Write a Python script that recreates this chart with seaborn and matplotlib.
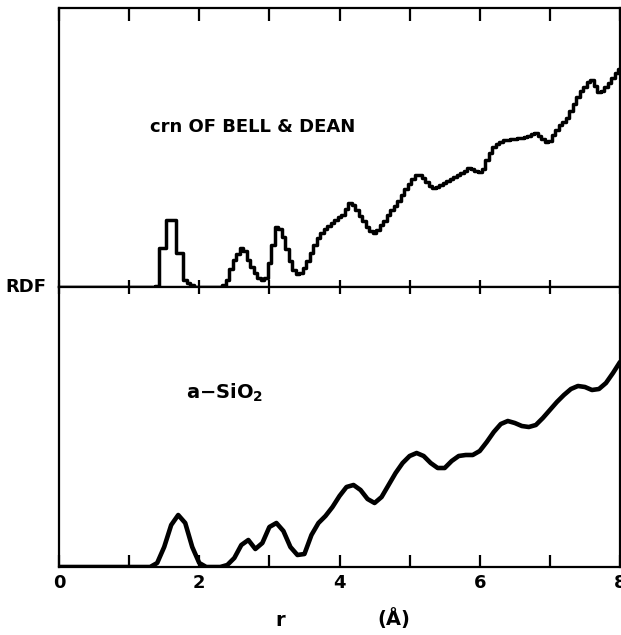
import numpy as np
import pandas as pd
import matplotlib
matplotlib.use("Agg")
import matplotlib.pyplot as plt
import seaborn as sns

# ---------------- data ----------------
# Top panel: crn of Bell & Dean (stepped histogram), r from 1.30 to 8.00 in 0.05 steps
top_r_start = 1.30
top_r_step = 0.05
top_rdf = [
    0, 0, 1, 39, 39, 67, 67, 67, 34, 34,
    7, 4, 2, 0, 0, 0, 0, 0, 0, 0,
    0, 2, 7, 18, 27, 33, 39, 36, 27, 20,
    14, 9, 7, 9, 24, 42, 60, 58, 50, 38,
    26, 17, 13, 14, 19, 26, 34, 42, 49, 54,
    58, 61, 64, 67, 70, 72, 78, 84, 82, 77,
    71, 66, 60, 56, 54, 57, 62, 66, 72, 77,
    81, 86, 92, 98, 103, 108, 112, 112, 109, 105,
    101, 99, 100, 102, 104, 106, 108, 110, 112, 114,
    116, 119, 118, 116, 115, 118, 127, 134, 140, 143,
    145, 147, 147, 148, 148, 149, 149, 150, 151, 153,
    154, 151, 148, 145, 146, 152, 157, 162, 165, 169,
    176, 183, 190, 196, 200, 205, 207, 201, 195, 196,
    200, 204, 209, 214, 218,
]

# Bottom panel: a-SiO2 (smooth curve), r from 1.2 to 8.0 in 0.1 steps
bot_r_start = 1.2
bot_r_step = 0.1
bot_rdf = [
    0, 0, 4, 20, 42, 52, 44, 20, 4, 0,
    0, 0, 2, 9, 22, 27, 18, 24, 40, 44,
    36, 20, 12, 13, 32, 44, 51, 60, 71, 80,
    82, 77, 68, 64, 70, 82, 94, 104, 111, 114,
    111, 104, 99, 99, 106, 111, 112, 112, 116, 125,
    135, 143, 146, 144, 141, 140, 142, 149, 157, 165,
    172, 178, 181, 180, 177, 178, 184, 194, 205,
]

x_major = [0, 2, 4, 6, 8]
x_minor = [1, 3, 5, 7]
x_labels = ["0", "2", "4", "6", "8"]

top_df = pd.DataFrame({
    "r": [0.0] + [round(top_r_start + i * top_r_step, 2) for i in range(len(top_rdf))],
    "rdf": [0] + top_rdf,
})
bot_df = pd.DataFrame({
    "r": [0.0] + [round(bot_r_start + i * bot_r_step, 2) for i in range(len(bot_rdf))],
    "rdf": [0] + bot_rdf,
})

# ---------------- figure ----------------
sns.set_theme(style="white")
plt.rcParams["font.family"] = ["DejaVu Sans"]
plt.rcParams["font.weight"] = "bold"
plt.rcParams["text.color"] = "black"
plt.rcParams["xtick.color"] = "black"
plt.rcParams["xtick.labelcolor"] = "black"
plt.rcParams["axes.edgecolor"] = "black"

W, H = 621, 635
fig = plt.figure(figsize=(W / 100, H / 100), dpi=100)
left = 59 / W
right = 620 / W
top_y = 1 - 8 / H
mid_y = 1 - 287 / H
bot_y = 1 - 567 / H
ax1 = fig.add_axes([left, mid_y, right - left, top_y - mid_y])
ax2 = fig.add_axes([left, bot_y, right - left, mid_y - bot_y], sharex=ax1)

sns.lineplot(data=top_df, x="r", y="rdf", ax=ax1, color="black", lw=2.5,
             drawstyle="steps-mid", estimator=None, sort=False)
sns.lineplot(data=bot_df, x="r", y="rdf", ax=ax2, color="black", lw=3.3,
             estimator=None, sort=False)

for ax in (ax1, ax2):
    ax.set_xlim(0, 8)
    ax.set_xlabel("")
    ax.set_ylabel("")
    ax.set_yticks([])
    for s in ax.spines.values():
        s.set_color("black")
        s.set_linewidth(1.6)
    ax.set_facecolor("white")

ax1.set_ylim(0, 279)
ax2.set_ylim(0, 280)

# ticks
ax1.set_xticks(x_major)
ax1.set_xticks(x_minor, minor=True)
ax1.tick_params(axis="x", which="both", direction="in", top=True, bottom=True,
                length=5, width=1.6, color="black", labelbottom=False)

ax2.set_xticks(x_major)
ax2.set_xticklabels(x_labels)
ax2.set_xticks(x_minor, minor=True)
ax2.tick_params(axis="x", which="both", direction="in", top=True, bottom=True,
                length=9, width=1.6, color="black", labelcolor="black",
                pad=5, labelsize=13)

# longer ticks on the outer edges (top of ax1), short crossing ticks in the middle
for t in ax1.xaxis.get_major_ticks() + ax1.xaxis.get_minor_ticks():
    t.tick2line.set_markersize(9)
for t in ax2.xaxis.get_major_ticks() + ax2.xaxis.get_minor_ticks():
    t.tick2line.set_markersize(5)

for lab in ax2.get_xticklabels():
    lab.set_fontweight("bold")
    lab.set_color("black")

# texts
ax1.text(1.30, 160, "crn OF BELL & DEAN", fontsize=13, fontweight="bold",
         ha="left", va="center", color="black")
ax2.text(1.81, 174, r"a$-$SiO$_{\mathbf{2}}$", fontsize=14, fontweight="bold",
         ha="left", va="center", color="black")

fig.text(26 / W, 1 - 287 / H, "RDF", fontsize=13, fontweight="bold",
         ha="center", va="center", color="black")
fig.text(280 / W, 1 - 620 / H, "r", fontsize=14, fontweight="bold",
         ha="center", va="center", color="black")
fig.text(394 / W, 1 - 619 / H, "(Å)", fontsize=14, fontweight="bold",
         ha="center", va="center", color="black")

fig.savefig("out.png", dpi=100, facecolor="white")
